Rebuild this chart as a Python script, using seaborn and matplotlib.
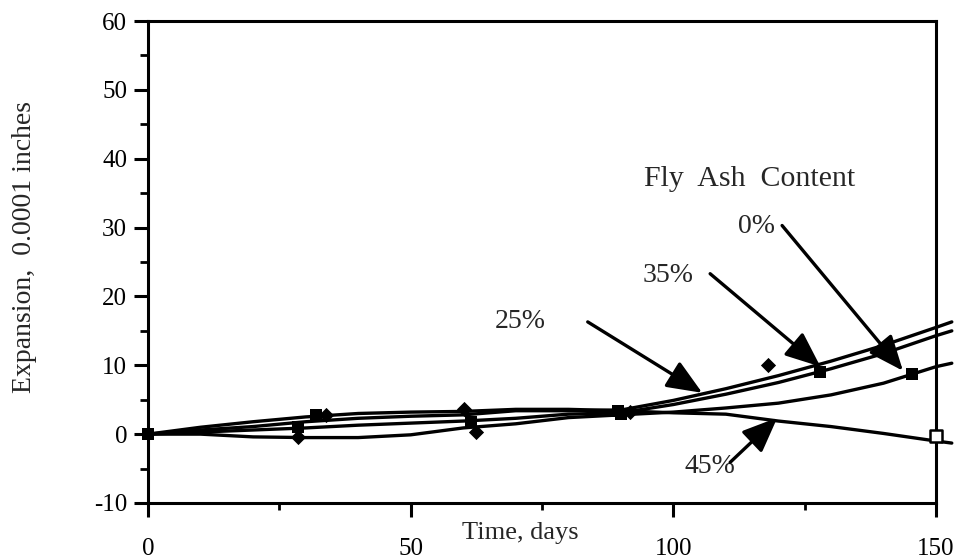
import numpy as np
import pandas as pd
import matplotlib
matplotlib.use("Agg")
import matplotlib.pyplot as plt
import seaborn as sns

# Fitted expansion curves (0.0001 in) for each fly ash content, sampled by day
curve_days = [0, 10, 20, 30, 40, 50, 60, 70, 80, 90, 100, 110, 120, 130, 140, 150, 153]
curve_0 = [0, 0.0, -0.4, -0.5, -0.5, -0.1, 0.9, 1.5, 2.4, 2.8, 3.2, 3.8, 4.5, 5.7, 7.4, 9.8, 10.3]
curve_25 = [0, 0.6, 1.1, 1.8, 2.3, 2.6, 2.8, 3.4, 3.4, 3.5, 4.9, 6.6, 8.5, 10.6, 12.9, 15.5, 16.3]
curve_35 = [0, 0.3, 0.6, 0.9, 1.3, 1.6, 1.9, 2.3, 2.9, 3.1, 4.3, 5.8, 7.5, 9.5, 11.7, 14.3, 15.0]
curve_45 = [0, 1.0, 1.8, 2.5, 3.0, 3.2, 3.3, 3.6, 3.6, 3.4, 3.1, 2.9, 1.9, 1.1, 0.1, -1.0, -1.3]

# Measured readings
meas_0_days = [0, 28.5, 61.4, 90, 145.5]
meas_0_vals = [0, 1.1, 1.75, 2.9, 8.8]
meas_25_days = [28.5, 62.4, 91.8, 118]
meas_25_vals = [-0.4, 0.3, 3.2, 10.0]
meas_35_days = [31.9, 89.4, 128]
meas_35_vals = [2.8, 3.3, 9.0]
meas_45_days = [33.8, 60.1]
meas_45_vals = [2.8, 3.6]
open_45_days = [150]
open_45_vals = [-0.3]

contents = ["0%", "25%", "35%", "45%"]

# Label text position, arrow tail and arrow tip (day, expansion)
label_pos = {"0%": (115.8, 30.1), "35%": (98.9, 23.1), "25%": (70.9, 16.4), "45%": (107.0, -4.7)}
arrow_tail = {"0%": (120.7, 30.3), "35%": (107.0, 23.3), "25%": (83.7, 16.3), "45%": (110.8, -4.1)}
arrow_tip = {"0%": (143.7, 9.2), "35%": (128.0, 9.8), "25%": (105.5, 6.0), "45%": (119.8, 2.4)}

sns.set_theme(style="white")
plt.rcParams["font.family"] = ["Liberation Serif", "DejaVu Serif"]
plt.rcParams["axes.unicode_minus"] = False

curves = pd.DataFrame({
    "day": curve_days * 4,
    "expansion": curve_0 + curve_25 + curve_35 + curve_45,
    "content": sum([[c] * len(curve_days) for c in contents], []),
})
filled_sq = pd.DataFrame({"day": meas_0_days + meas_35_days, "expansion": meas_0_vals + meas_35_vals})
filled_dm = pd.DataFrame({"day": meas_25_days + meas_45_days, "expansion": meas_25_vals + meas_45_vals})
open_sq = pd.DataFrame({"day": open_45_days, "expansion": open_45_vals})

fig = plt.figure(figsize=(9.63, 5.59), dpi=100)
ax = fig.add_axes([0.1537, 0.1002, 0.8183, 0.8622])

sns.lineplot(data=curves, x="day", y="expansion", units="content", estimator=None,
             color="black", lw=2.4, sort=True, ax=ax, legend=False, clip_on=False)
sns.scatterplot(data=filled_sq, x="day", y="expansion", marker="s", s=85, color="black",
                edgecolor="black", linewidth=0, ax=ax, zorder=5, clip_on=False)
sns.scatterplot(data=filled_dm, x="day", y="expansion", marker="D", s=60, color="black",
                edgecolor="black", linewidth=0, ax=ax, zorder=5, clip_on=False)
sns.scatterplot(data=open_sq, x="day", y="expansion", marker="s", s=80, color="white",
                edgecolor="black", linewidth=1.8, ax=ax, zorder=6, clip_on=False)

for c in contents:
    ax.text(*label_pos[c], c, fontsize=20, ha="center", va="center")
    ax.annotate("", xy=arrow_tip[c], xytext=arrow_tail[c],
                arrowprops=dict(arrowstyle="-|>,head_length=1.2,head_width=0.5",
                                mutation_scale=18, lw=2.4, color="black",
                                shrinkA=0, shrinkB=0))

ax.text(114.6, 37.1, "Fly  Ash  Content", fontsize=21.5, ha="center", va="center")

ax.set_xlim(0, 150)
ax.set_ylim(-10, 60)
ax.set_xticks([0, 50, 100, 150])
ax.set_xticklabels(["0", "50", "100", "150"])
ax.set_xticks([25, 75, 125], minor=True)
ax.set_yticks(np.arange(-10, 61, 10))
ax.set_yticks(np.arange(-5, 60, 10), minor=True)

ax.tick_params(axis="both", which="major", direction="out", length=10, width=2.2,
               labelsize=18, color="black", labelcolor="black")
ax.tick_params(axis="x", which="major", pad=15)
ax.tick_params(axis="y", which="major", pad=5)
ax.tick_params(axis="both", which="minor", direction="out", length=6, width=2.0, color="black")
ax.tick_params(axis="x", which="minor", length=5)
ax.xaxis.set_ticks_position("bottom")
ax.yaxis.set_ticks_position("left")

for side in ["left", "bottom", "top", "right"]:
    ax.spines[side].set_visible(True)
    ax.spines[side].set_color("black")
    ax.spines[side].set_linewidth(2.2)

ax.set_xlabel("")
ax.set_ylabel("Expansion,  0.0001 inches", fontsize=20)
ax.yaxis.set_label_coords(-0.141, 0.531)
ax.text(0.472, -0.062, "Time, days", fontsize=19, ha="center", va="center",
        transform=ax.transAxes)

fig.savefig("out.png", dpi=100, facecolor="white")
